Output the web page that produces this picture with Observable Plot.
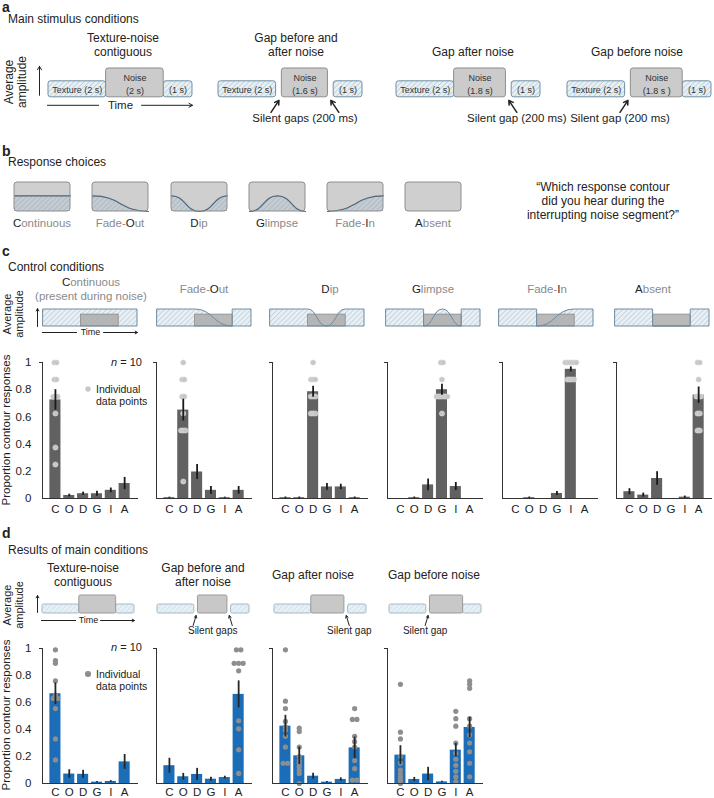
<!DOCTYPE html>
<html>
<head>
<meta charset="utf-8">
<script src="https://cdn.jsdelivr.net/npm/d3@7"></script>
<script src="https://cdn.jsdelivr.net/npm/@observablehq/plot@0.6"></script>
<style>
html,body{margin:0;padding:0;background:#fff;}
#fig{position:relative;width:714px;height:798px;overflow:hidden;font-family:"Liberation Sans",Arial,Helvetica,sans-serif;color:#222;}
</style>
</head>
<body>
<svg width="0" height="0" style="position:absolute;left:0;top:0">
<defs>
<pattern id="hatchA" patternUnits="userSpaceOnUse" width="3.6" height="3.6" patternTransform="rotate(45)">
<rect width="3.6" height="3.6" fill="#e7f0f5"/><line x1="0.5" y1="0" x2="0.5" y2="3.6" stroke="#bccbd6" stroke-width="0.8"/>
</pattern>
<pattern id="hatchC" patternUnits="userSpaceOnUse" width="3.6" height="3.6" patternTransform="rotate(45)">
<rect width="3.6" height="3.6" fill="#e8f0f5"/><line x1="0.5" y1="0" x2="0.5" y2="3.6" stroke="#bfcdd8" stroke-width="0.8"/>
</pattern>
<pattern id="hatchD" patternUnits="userSpaceOnUse" width="3.6" height="3.6" patternTransform="rotate(45)">
<rect width="3.6" height="3.6" fill="#e6f0f6"/><line x1="0.5" y1="0" x2="0.5" y2="3.6" stroke="#d0dde6" stroke-width="0.8"/>
</pattern>
<pattern id="hatchB" patternUnits="userSpaceOnUse" width="3.6" height="3.6" patternTransform="rotate(45)">
<rect width="3.6" height="3.6" fill="#c4ccd2"/><line x1="0.5" y1="0" x2="0.5" y2="3.6" stroke="#a9b7c1" stroke-width="0.8"/>
</pattern>
</defs>
</svg>
<div id="fig"></div>
<script>
// ---------------- DATA ----------------
const responseCodes = ["C", "O", "D", "G", "I", "A"];
const responseNames = ["Continuous", "Fade-Out", "Dip", "Glimpse", "Fade-In", "Absent"];
// contour key points during the noise interval (time in s, relative amplitude)
const contourKeysT = [[2, 4], [2, 4], [2, 3, 4], [2, 3, 4], [2, 4], [2, 4]];
const contourKeysA = [[1, 1], [1, 0], [1, 0, 1], [0, 1, 0], [0, 1], [0, 0]];

// control conditions (panel c): mean proportion and SEM per response C,O,D,G,I,A
const controlMeans = [
  [0.725, 0.022, 0.035, 0.035, 0.06, 0.11],
  [0.006, 0.65, 0.195, 0.06, 0.006, 0.06],
  [0.006, 0.006, 0.785, 0.085, 0.085, 0.006],
  [0, 0.006, 0.1, 0.8, 0.088, 0],
  [0, 0.006, 0, 0.037, 0.95, 0],
  [0.05, 0.025, 0.147, 0, 0.01, 0.76]
];
const controlSems = [
  [0.075, 0.01, 0.012, 0.018, 0.017, 0.045],
  [0.004, 0.08, 0.055, 0.028, 0.004, 0.028],
  [0.005, 0.005, 0.04, 0.025, 0.02, 0.005],
  [0, 0.005, 0.043, 0.04, 0.03, 0],
  [0, 0.005, 0, 0.015, 0.018, 0],
  [0.022, 0.015, 0.05, 0, 0.008, 0.06]
];
// individual data points for the matching response in each control condition
const controlPoints = [
  [1, 1, 0.875, 0.875, 0.75, 0.75, 0.75, 0.625, 0.375, 0.25],
  [1, 0.875, 0.875, 0.75, 0.75, 0.625, 0.5, 0.5, 0.5, 0.125],
  [1, 0.875, 0.875, 0.875, 0.75, 0.75, 0.75, 0.625, 0.625, 0.625],
  [1, 1, 0.875, 0.75, 0.75, 0.75, 0.75, 0.75, 0.75, 0.625],
  [1, 1, 1, 1, 1, 1, 0.875, 0.875, 0.875, 0.875],
  [1, 1, 0.875, 0.75, 0.75, 0.75, 0.625, 0.625, 0.5, 0.5]
];

// main conditions (panels a and d)
const mainTitles = [["Texture-noise", "contiguous"], ["Gap before and", "after noise"], ["Gap after noise"], ["Gap before noise"]];
const noiseOnsets = [2, 2.2, 2, 2.2];
const noiseOffsets = [4, 3.8, 3.8, 4];
const noiseLabels = ["(2 s)", "(1.6 s)", "(1.8 s)", "(1.8 s )"];
const gapTimesList = [[], [2.1, 3.9], [3.9], [2.1]];
const gapTextsA = ["", "Silent gaps (200 ms)", "Silent gap (200 ms)", "Silent gap (200 ms)"];
const gapTextsD = ["", "Silent gaps", "Silent gap", "Silent gap"];

const mainMeans = [
  [0.665, 0.07, 0.068, 0.01, 0.015, 0.16],
  [0.132, 0.05, 0.067, 0.032, 0.044, 0.66],
  [0.425, 0.205, 0.054, 0.01, 0.03, 0.264],
  [0.21, 0.03, 0.07, 0.012, 0.247, 0.415]
];
const mainSems = [
  [0.08, 0.032, 0.03, 0.005, 0.006, 0.055],
  [0.055, 0.025, 0.045, 0.015, 0.01, 0.1],
  [0.08, 0.065, 0.022, 0.005, 0.012, 0.08],
  [0.07, 0.015, 0.05, 0.005, 0.05, 0.075]
];
const mainPoints = [
  [[0.99, 0.91, 0.89, 0.76, 0.655, 0.63, 0.63, 0.555, 0.33, 0.175], [], [], [], [], []],
  [[], [], [], [], [], [0.99, 0.99, 0.89, 0.89, 0.89, 0.835, 0.465, 0.405, 0.25, 0.075]],
  [[0.99, 0.61, 0.555, 0.46, 0.42, 0.395, 0.35, 0.27, 0.15, 0.15],
   [0.41, 0.385, 0.27, 0.2, 0.17, 0.15, 0.125, 0.1, 0.075, 0.0], [], [], [],
   [0.555, 0.475, 0.475, 0.35, 0.31, 0.27, 0.17, 0.11, 0.025, 0.025]],
  [[0.735, 0.38, 0.33, 0.2, 0.15, 0.1, 0.07, 0.05, 0.025, 0.0], [], [], [],
   [0.535, 0.48, 0.425, 0.3, 0.225, 0.18, 0.135, 0.09, 0.05, 0.015],
   [0.76, 0.735, 0.705, 0.48, 0.425, 0.36, 0.3, 0.235, 0.15, 0.05]]
];
const yTicks = [0, 0.2, 0.4, 0.6, 0.8, 1];

// ---------------- HELPERS ----------------
const fig = document.getElementById("fig");
const FONT = '"Liberation Sans", Arial, Helvetica, sans-serif';
const baseStyle = {background: "none", overflow: "visible", fontFamily: FONT, fontSize: "11.5px", color: "#222"};
const GREY = "#8a8a8a";

function addText(html, x, y, o = {}) {
  const d = document.createElement("div");
  d.style.position = "absolute";
  d.style.left = x + "px";
  d.style.top = y + "px";
  d.style.fontSize = (o.size ?? 12) + "px";
  d.style.lineHeight = (o.lh ?? 1.2);
  d.style.color = o.color ?? "#222";
  d.style.fontWeight = o.weight ?? "normal";
  d.style.whiteSpace = "nowrap";
  d.style.textAlign = o.align ?? "center";
  const tx = o.anchor === "start" ? "0" : o.anchor === "end" ? "-100%" : "-50%";
  d.style.transform = `translate(${tx},-50%)` + (o.rotate ? ` rotate(${o.rotate}deg)` : "");
  d.innerHTML = html;
  fig.appendChild(d);
}
function addDot(x, y, r, fill, stroke) {
  const d = document.createElement("div");
  d.style.cssText = `position:absolute;left:${x - r}px;top:${y - r}px;width:${2 * r}px;height:${2 * r}px;border-radius:50%;background:${fill};box-sizing:border-box;border:${stroke ? "0.6px solid " + stroke : "none"}`;
  fig.appendChild(d);
}
function putPlot(svg, left, top) {
  svg.style.position = "absolute";
  svg.style.left = left + "px";
  svg.style.top = top + "px";
  fig.appendChild(svg);
}
function highlighted(name, code) {
  const k = name.indexOf(code);
  return `<span style="color:${GREY}">${name.slice(0, k)}</span><span style="color:#222">${name[k]}</span><span style="color:${GREY}">${name.slice(k + 1)}</span>`;
}

// bar panel with error bars and individual points
function barPanel(means, sems, points, axisLeft, yTop, yBottom, o) {
  const L = o.showY ? 42 : 6;
  const W = 96;
  const step = 13.845;
  const xmin = -0.5 - 6 / step, xmax = xmin + W / step;
  const mt = 8, mb = 14;
  const height = mt + (yBottom - yTop) + mb;
  const bars = responseCodes.map((c, i) => ({i, mean: means[i], sem: sems[i]}));
  const dots = [];
  points.forEach((vals, i) => {
    const counts = d3.rollup(vals, v => v.length, v => v);
    const seen = new Map();
    vals.forEach(v => {
      const n = counts.get(v), k = seen.get(v) ?? 0;
      seen.set(v, k + 1);
      dots.push({i, v, off: (k - (n - 1) / 2) * o.spread / step});
    });
  });
  const marks = [
    Plot.rect(bars, {x1: d => d.i - 0.4, x2: d => d.i + 0.4, y1: 0, y2: "mean", fill: o.barFill}),
    Plot.dot(dots, {x: d => d.i + d.off, y: "v", r: o.r, fill: o.dotFill, stroke: o.dotStroke, strokeWidth: 0.6}),
    Plot.ruleX(bars.filter(d => d.sem > 0), {x: "i", y1: d => Math.max(0, d.mean - d.sem), y2: d => d.mean + d.sem, stroke: o.errColor, strokeWidth: 1.8}),
    Plot.ruleY([0], {stroke: "#333", strokeWidth: 1}),
    Plot.ruleX([xmin], {y1: 0, y2: 1, stroke: "#333", strokeWidth: 1}),
    Plot.ruleY([1], {x1: xmin - 3 / step, x2: xmin, stroke: "#333", strokeWidth: 1}),
    Plot.axisX({ticks: d3.range(6), tickFormat: i => responseCodes[i], tickSize: 0, tickPadding: o.xPad, fontSize: 11.5, label: null})
  ];
  if (o.showY) marks.push(Plot.axisY({ticks: yTicks, tickFormat: d => String(d), tickSize: 0, tickPadding: 11, fontSize: 11.5, label: null}));
  const svg = Plot.plot({
    width: L + W, height, marginLeft: L, marginRight: 0, marginTop: mt, marginBottom: mb,
    x: {type: "linear", domain: [xmin, xmax], range: [L, L + W]},
    y: {type: "linear", domain: [0, 1], range: [height - mb, mt], axis: o.showY ? undefined : null},
    style: baseStyle, marks
  });
  putPlot(svg, axisLeft - L, yTop - mt);
}

// "Time" axis arrow broken around its label, and vertical amplitude arrow
function timeMarks(ux, yUnits, gapPx, font, head, upX, upY1, upY2) {
  const g = ux(gapPx);
  return [
    Plot.ruleY([yUnits], {x1: -ux(1), x2: 2.5 - g, stroke: "#222", strokeWidth: 1}),
    Plot.arrow([0], {x1: 2.5 + g, x2: 5, y1: yUnits, y2: yUnits, stroke: "#222", strokeWidth: 1, headLength: head}),
    Plot.text(["Time"], {x: 2.5, y: yUnits, text: d => d, fontSize: font, fill: "#222"}),
    Plot.arrow([0], {x1: upX, x2: upX, y1: upY1, y2: upY2, stroke: "#222", strokeWidth: 1, headLength: head})
  ];
}

// stimulus schematic for panels a and d (x in seconds)
function stimulusSketch(ci, x0, baseY, gapText, o) {
  const ml = 14, mr = 6, mt = 3, mb = 34;
  const plotW = 5 * o.pps, topPx = o.unitPx * o.noiseLevel;
  const height = mt + topPx + mb;
  const textures = [{x1: 0, x2: 2, label: "Texture (2 s)"}, {x1: 4, x2: 5, label: "(1 s)"}];
  const noise = [{x1: noiseOnsets[ci], x2: noiseOffsets[ci], label: "Noise\n" + noiseLabels[ci]}];
  const uy = px => px / o.unitPx, ux = px => px / o.pps;
  const gaps = gapTimesList[ci].map(t => ({t, dir: t < 3 ? -1 : 1}));
  const marks = [
    Plot.rect(textures, {x1: "x1", x2: "x2", y1: 0, y2: 1, fill: `url(#${o.hatch})`, stroke: o.texStroke, strokeWidth: 1, rx: o.rx}),
    Plot.rect(noise, {x1: "x1", x2: "x2", y1: 0, y2: o.noiseLevel, fill: o.noiseFill, stroke: o.noiseStroke, strokeWidth: 1, rx: o.rx})
  ];
  if (o.inner) {
    marks.push(Plot.text(textures.concat(noise), {
      x: d => (d.x1 + d.x2) / 2, y: (d, i) => (i < 2 ? 0.5 : o.noiseLevel / 2),
      text: "label", fontSize: 9, lineHeight: 1.45, fill: "#333"
    }));
  }
  if (gaps.length) {
    marks.push(Plot.arrow(gaps, {
      x1: d => d.t + d.dir * ux(o.arrowDx), y1: -uy(o.arrowTail), x2: "t", y2: -uy(o.arrowTip),
      stroke: "#222", strokeWidth: o.arrowW, headLength: o.head
    }));
    marks.push(Plot.text([gapText], {
      x: d3.mean(gaps, d => d.t + d.dir * ux(o.arrowDx)), y: -uy(o.textDy), text: d => d, fontSize: o.gapFont, fill: "#222"
    }));
  }
  if (ci === 0) {
    marks.push(...timeMarks(ux, -uy(o.timeDy), o.timeGap, o.timeFont, o.head, -ux(o.upDx), uy(o.upY1), uy(o.upY2)));
  }
  const svg = Plot.plot({
    width: ml + plotW + mr, height, marginLeft: ml, marginRight: mr, marginTop: mt, marginBottom: mb,
    x: {domain: [0, 5], range: [ml, ml + plotW], axis: null},
    y: {domain: [0, o.noiseLevel], range: [height - mb, mt], axis: null},
    style: baseStyle, marks
  });
  putPlot(svg, x0 - ml, baseY - topPx - mt);
}

// control condition schematic (panel c)
function responseSketch(ri, x0, baseY) {
  const pps = 18.8, unit = 17, ml = 10, mr = 4, mt = 3, mb = 14;
  const plotW = 5 * pps, height = mt + unit + mb;
  const keys = contourKeysT[ri].map((t, k) => ({t, a: contourKeysA[ri][k]}));
  const pts = [{t: 0, a: 1}, {t: 2, a: 1}, ...keys, {t: 4, a: 1}, {t: 5, a: 1}];
  const ux = px => px / pps;
  const marks = [
    Plot.areaY(pts, {x: "t", y1: 0, y2: "a", curve: "bump-x", fill: "url(#hatchC)"}),
    Plot.rect([{x1: 2, x2: 4}], {x1: "x1", x2: "x2", y1: 0, y2: 0.7, fill: "#a9a9a9", fillOpacity: 0.82, stroke: "#8a8a8a", strokeWidth: 0.8}),
    Plot.areaY(pts, {x: "t", y1: 0, y2: "a", curve: "bump-x", fill: "none", stroke: "#6f8ba0", strokeWidth: 1})
  ];
  if (ri === 0) {
    marks.push(...timeMarks(ux, -6 / unit, 13, 9, 4, -ux(6), 0, 1.05));
  }
  const svg = Plot.plot({
    width: ml + plotW + mr, height, marginLeft: ml, marginRight: mr, marginTop: mt, marginBottom: mb,
    x: {domain: [0, 5], range: [ml, ml + plotW], axis: null},
    y: {domain: [0, 1], range: [height - mb, mt], axis: null},
    style: baseStyle, marks
  });
  putPlot(svg, x0 - ml, baseY - unit - mt);
}

// response choice icon (panel b)
function choiceSketch(ri, x0, top) {
  const W = 56, H = 29, m = 2, ytop = 1.85;
  const keys = contourKeysT[ri].map((t, k) => ({t, a: contourKeysA[ri][k]}));
  const box = [{x1: 2, x2: 4}];
  const marks = [
    Plot.rect(box, {x1: "x1", x2: "x2", y1: 0, y2: ytop, fill: "#cfcfcf", rx: 3}),
    Plot.areaY(keys, {x: "t", y1: 0, y2: "a", curve: "bump-x", fill: "url(#hatchB)"})
  ];
  if (d3.max(keys, d => d.a) > 0) marks.push(Plot.line(keys, {x: "t", y: "a", curve: "bump-x", stroke: "#4d6577", strokeWidth: 1.2}));
  marks.push(Plot.rect(box, {x1: "x1", x2: "x2", y1: 0, y2: ytop, fill: "none", stroke: "#8e8e8e", strokeWidth: 1, rx: 3}));
  const svg = Plot.plot({
    width: W + 2 * m, height: H + 2 * m, margin: m,
    x: {domain: [2, 4], range: [m, m + W], axis: null},
    y: {domain: [0, ytop], range: [m + H, m], axis: null},
    style: baseStyle, marks
  });
  putPlot(svg, x0 - m, top - m);
}

// ---------------- LAYOUT ----------------
addText("a", 2, 7, {anchor: "start", size: 14, weight: "bold", lh: 1});
addText("b", 2, 151, {anchor: "start", size: 14, weight: "bold", lh: 1});
addText("c", 2, 251, {anchor: "start", size: 14, weight: "bold", lh: 1});
addText("d", 2, 533, {anchor: "start", size: 14, weight: "bold", lh: 1});
addText("Main stimulus conditions", 8, 19, {anchor: "start"});
addText("Response choices", 8, 162, {anchor: "start"});
addText("Control conditions", 8, 267, {anchor: "start"});
addText("Results of main conditions", 8, 550, {anchor: "start"});

// ---- panel a ----
const aX = [48, 218, 396, 567];
const aTitleX = [123, 296, 473, 637];
const optsA = {pps: 28.8, unitPx: 16, noiseLevel: 1.8, inner: true, hatch: "hatchA", texStroke: "#6f8fa3",
  noiseFill: "#cbcbcb", noiseStroke: "#8e8e8e", rx: 2.5, arrowDx: 8, arrowTail: 15, arrowTip: 3, textDy: 21,
  gapFont: 11.5, arrowW: 1.5, head: 6, timeDy: 8, timeFont: 11.5, timeGap: 21, upDx: 9, upY1: 2, upY2: 31};
mainTitles.forEach((lines, ci) => {
  addText(lines.join("<br>"), aTitleX[ci], lines.length > 1 ? 45 : 52, {size: 12, lh: 1.17});
  stimulusSketch(ci, aX[ci], 97, gapTextsA[ci], optsA);
});
addText("Average<br>amplitude", 16, 82, {size: 12, lh: 1.05, rotate: -90});

// ---- panel b ----
const bX = [14, 92, 171, 249, 327, 405];
responseNames.forEach((name, ri) => {
  choiceSketch(ri, bX[ri], 182);
  addText(highlighted(name, responseCodes[ri]), bX[ri] + 28, 224, {size: 11.5});
});
addText("\u201cWhich response contour<br>did you hear during the<br>interrupting noise segment?\u201d", 603, 201, {size: 12, lh: 1.17});

// ---- panel c ----
const cSketchX = [43, 157, 270, 386, 499, 615];
const cTitleX = [91, 204, 330, 433, 547, 653];
responseNames.forEach((name, ri) => {
  responseSketch(ri, cSketchX[ri], 326);
  if (ri === 0) {
    addText(highlighted(name, responseCodes[ri]) + `<br><span style="color:${GREY}">(present during noise)</span>`, cTitleX[ri], 290, {size: 11.5, lh: 1.2});
  } else {
    addText(highlighted(name, responseCodes[ri]), cTitleX[ri], 290, {size: 11.5});
  }
});
addText("Average<br>amplitude", 14, 314, {size: 11, lh: 1.05, rotate: -90});

const cAxisX = [42, 156, 272, 387, 502, 616];
const controlStyle = {barFill: "#616161", dotFill: "#c6c6c6", dotStroke: "#dadada", r: 2.6, spread: 2.2, errColor: "#1a1a1a", xPad: 6};
responseNames.forEach((name, ri) => {
  const pts = responseCodes.map((c, i) => (i === ri ? controlPoints[ri] : []));
  barPanel(controlMeans[ri], controlSems[ri], pts, cAxisX[ri], 362, 498, {...controlStyle, showY: ri === 0});
});
addText("Proportion contour responses", 7, 430, {size: 11.5, rotate: -90});
addText("<i>n</i> = 10", 142, 363, {anchor: "end", size: 11});
addDot(88, 389, 2.8, "#c6c6c6", "#dadada");
addText("Individual<br>data points", 96, 395, {anchor: "start", size: 10.5, lh: 1.15, align: "left"});

// ---- panel d ----
const dX = [42, 157, 274, 389];
const dTitleX = [83, 203, 313, 434];
const optsD = {pps: 18.4, unitPx: 9, noiseLevel: 2, inner: false, hatch: "hatchD", texStroke: "#a3b9c7",
  noiseFill: "#c8c8c8", noiseStroke: "#9a9a9a", rx: 1.5, arrowDx: 3, arrowTail: 12, arrowTip: 2, textDy: 17,
  gapFont: 10, arrowW: 1, head: 4, timeDy: 7, timeFont: 9, timeGap: 12, upDx: 5, upY1: 1, upY2: 18};
mainTitles.forEach((lines, ci) => {
  addText(lines.join("<br>"), dTitleX[ci], 575, {size: 12, lh: 1.17});
  stimulusSketch(ci, dX[ci], 613, gapTextsD[ci], optsD);
});
addText("Average<br>amplitude", 14, 605, {size: 11, lh: 1.05, rotate: -90});

const dAxisX = [42, 156, 272, 387];
const mainStyle = {barFill: "#1b6db7", dotFill: "#8e8e8e", dotStroke: "none", r: 2.6, spread: 4.5, errColor: "#262626", xPad: 4};
mainTitles.forEach((lines, ci) => {
  barPanel(mainMeans[ci], mainSems[ci], mainPoints[ci], dAxisX[ci], 648, 783, {...mainStyle, showY: ci === 0});
});
addText("Proportion contour responses", 7, 715, {size: 11.5, rotate: -90});
addText("<i>n</i> = 10", 142, 648, {anchor: "end", size: 11});
addDot(88, 674, 2.8, "#8e8e8e", null);
addText("Individual<br>data points", 96, 680, {anchor: "start", size: 10.5, lh: 1.15, align: "left"});
</script>
</body>
</html>
